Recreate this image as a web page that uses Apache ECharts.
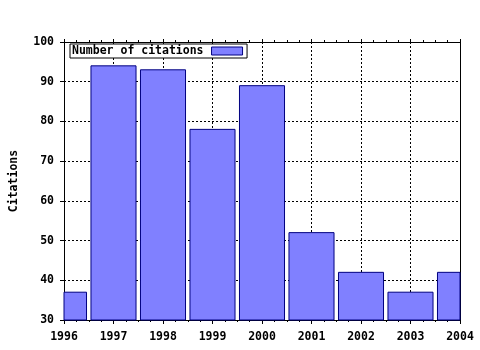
<!DOCTYPE html>
<html><head><meta charset="utf-8">
<script src="https://cdn.jsdelivr.net/npm/echarts@6/dist/echarts.min.js"></script>
<style>html,body{margin:0;padding:0;background:#fff}#c{width:480px;height:350px}</style>
</head><body><div id="c"></div>
<script>
const years = [1996, 1997, 1998, 1999, 2000, 2001, 2002, 2003, 2004];
const citations = [37, 94, 93, 78, 89, 52, 42, 37, 42];
const seriesName = 'Number of citations';
const yAxisName = 'Citations';
const yMin = 30, yMax = 100;

const font = {fontFamily: 'DejaVu Sans Mono', fontWeight: 'bold', fontSize: 11.5, color: '#000'};
const chart = echarts.init(document.getElementById('c'), null, {renderer: 'canvas'});
chart.setOption({
  animation: false,
  backgroundColor: '#fff',
  grid: {left: 64, right: 20, top: 42, bottom: 30, containLabel: false, outerBoundsMode: 'none'},
  legend: {
    left: 70, top: 44, align: 'right', padding: [1, 4, 1, 2],
    borderColor: '#000', borderWidth: 1, backgroundColor: '#fff',
    itemWidth: 31, itemHeight: 8, icon: 'rect',
    textStyle: Object.assign({}, font, {padding: [0, 3, 0, 0]}),
    data: [{name: seriesName, itemStyle: {color: '#8080ff', borderColor: '#000080', borderWidth: 1}}]
  },
  xAxis: [{
    type: 'value', min: 1996, max: 2004, interval: 1, position: 'bottom',
    axisLine: {lineStyle: {color: '#000', width: 1}},
    axisTick: {show: true, length: 4, lineStyle: {color: '#000'}},
    minorTick: {show: true, splitNumber: 4, length: 2, lineStyle: {color: '#000'}},
    axisLabel: Object.assign({}, font, {margin: 11, formatter: v => String(v)}),
    splitLine: {show: true, lineStyle: {color: '#000', type: [2, 2], width: 1}}
  }, {
    type: 'value', min: 1996, max: 2004, interval: 1, position: 'top',
    axisLine: {show: true, lineStyle: {color: '#000', width: 1}},
    axisTick: {show: true, length: 3, lineStyle: {color: '#000'}},
    minorTick: {show: true, splitNumber: 4, length: 2, lineStyle: {color: '#000'}},
    axisLabel: {show: false}, splitLine: {show: false}
  }],
  yAxis: [{
    type: 'value', min: yMin, max: yMax, interval: 10, position: 'left',
    name: yAxisName, nameLocation: 'middle', nameGap: 44,
    nameTextStyle: font,
    axisLine: {show: true, lineStyle: {color: '#000', width: 1}},
    axisTick: {show: true, length: 4, lineStyle: {color: '#000'}},
    axisLabel: Object.assign({}, font, {margin: 10}),
    splitLine: {show: true, lineStyle: {color: '#000', type: [2, 2], width: 1}}
  }, {
    type: 'value', min: yMin, max: yMax, interval: 10, position: 'right',
    axisLine: {show: true, lineStyle: {color: '#000', width: 1}},
    axisTick: {show: false}, axisLabel: {show: false}, splitLine: {show: false}
  }],
  series: [{
    name: seriesName, type: 'custom', xAxisIndex: 0, yAxisIndex: 0, z: 1,
    itemStyle: {color: '#8080ff', borderColor: '#000080', borderWidth: 1},
    encode: {x: 0, y: 1},
    renderItem: function (params, api) {
      const x = api.value(0), y = api.value(1);
      const top = api.coord([x, y]);
      const base = api.coord([x, yMin]);
      const w = api.size([0.91, 0])[0];
      const cs = params.coordSys;
      const rect = echarts.graphic.clipRectByRect(
        {x: top[0] - w / 2, y: top[1], width: w, height: base[1] - top[1]},
        {x: cs.x, y: cs.y, width: cs.width, height: cs.height});
      if (!rect) return;
      return {type: 'rect', shape: rect,
        style: {fill: '#8080ff', stroke: '#000080', lineWidth: 1}};
    },
    data: years.map((y, i) => [y, citations[i]])
  }]
});
</script></body></html>
